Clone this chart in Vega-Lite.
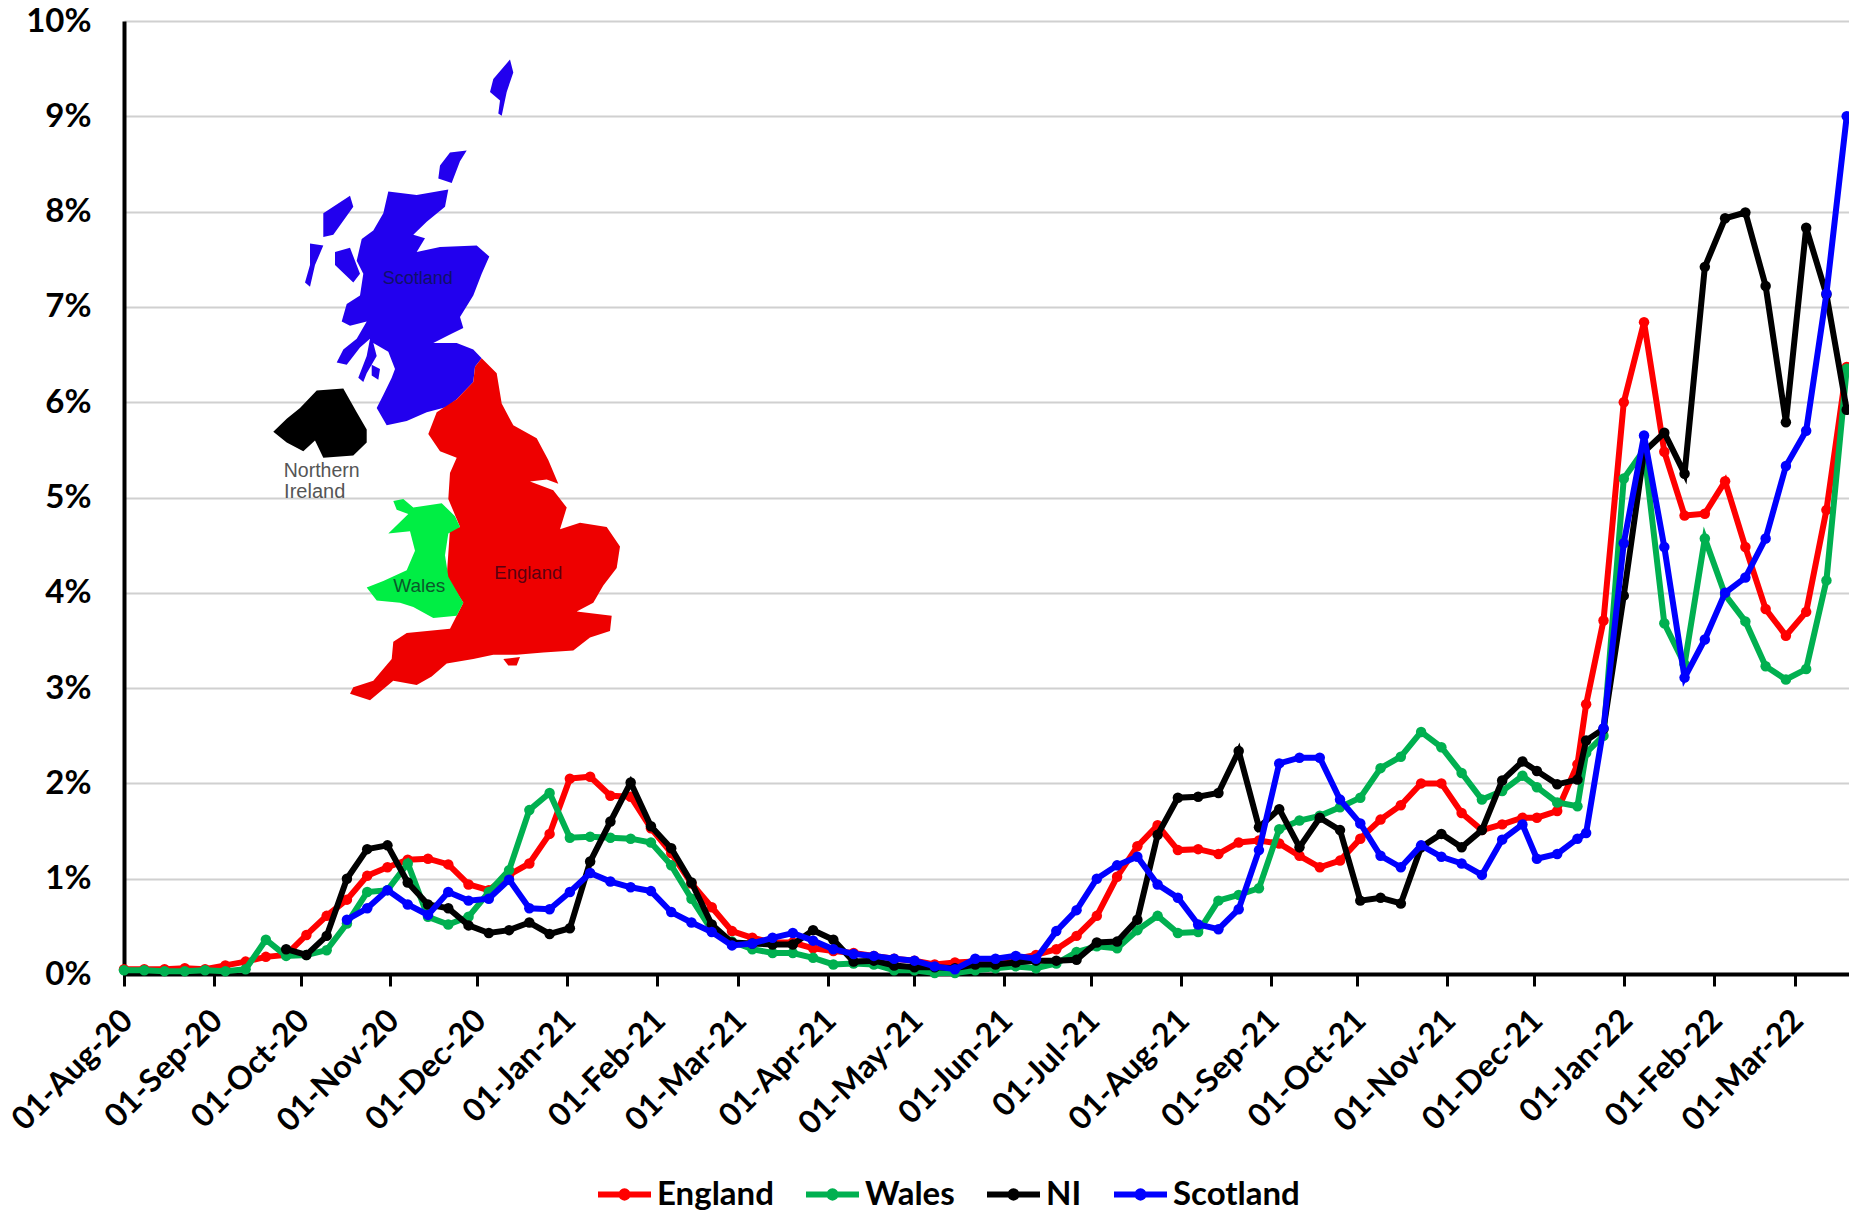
{"$schema":"https://vega.github.io/schema/vega-lite/v6.json","width":1725,"height":953,"autosize":{"type":"none"},"padding":{"left":124,"top":21,"right":0,"bottom":237},"background":"white","config":{"view":{"stroke":null}},
"datasets":{"rates":[
{"d":"2020-08-01","England":0.05,"Wales":0.04},{"d":"2020-08-08","England":0.05,"Wales":0.04},{"d":"2020-08-15","England":0.05,"Wales":0.03},{"d":"2020-08-22","England":0.06,"Wales":0.03},{"d":"2020-08-29","England":0.05,"Wales":0.04},{"d":"2020-09-05","England":0.09,"Wales":0.03},{"d":"2020-09-12","England":0.13,"Wales":0.05},{"d":"2020-09-19","England":0.18,"Wales":0.36},{"d":"2020-09-26","England":0.2,"Wales":0.19,"NI":0.26},{"d":"2020-10-03","England":0.41,"Wales":0.2,"NI":0.2},{"d":"2020-10-10","England":0.61,"Wales":0.25,"NI":0.4},{"d":"2020-10-17","England":0.78,"Wales":0.53,"NI":1.0,"Scotland":0.57},{"d":"2020-10-24","England":1.03,"Wales":0.86,"NI":1.31,"Scotland":0.69},{"d":"2020-10-31","England":1.12,"Wales":0.88,"NI":1.35,"Scotland":0.88},{"d":"2020-11-07","England":1.2,"Wales":1.16,"NI":0.96,"Scotland":0.73},{"d":"2020-11-14","England":1.21,"Wales":0.6,"NI":0.73,"Scotland":0.62},{"d":"2020-11-21","England":1.15,"Wales":0.52,"NI":0.69,"Scotland":0.86},{"d":"2020-11-28","England":0.94,"Wales":0.6,"NI":0.51,"Scotland":0.77},{"d":"2020-12-05","England":0.88,"Wales":0.86,"NI":0.43,"Scotland":0.79},{"d":"2020-12-12","England":1.04,"Wales":1.09,"NI":0.46,"Scotland":0.99},{"d":"2020-12-19","England":1.16,"Wales":1.72,"NI":0.54,"Scotland":0.69},{"d":"2020-12-26","England":1.47,"Wales":1.9,"NI":0.42,"Scotland":0.68},{"d":"2021-01-02","England":2.05,"Wales":1.43,"NI":0.48,"Scotland":0.86},{"d":"2021-01-09","England":2.07,"Wales":1.44,"NI":1.18,"Scotland":1.06},{"d":"2021-01-16","England":1.87,"Wales":1.43,"NI":1.6,"Scotland":0.97},{"d":"2021-01-23","England":1.86,"Wales":1.42,"NI":2.01,"Scotland":0.91},{"d":"2021-01-30","England":1.53,"Wales":1.38,"NI":1.55,"Scotland":0.87},{"d":"2021-02-06","England":1.27,"Wales":1.14,"NI":1.32,"Scotland":0.65},{"d":"2021-02-13","England":0.95,"Wales":0.79,"NI":0.96,"Scotland":0.54},{"d":"2021-02-20","England":0.7,"Wales":0.46,"NI":0.52,"Scotland":0.44},{"d":"2021-02-27","England":0.45,"Wales":0.34,"NI":0.33,"Scotland":0.3},{"d":"2021-03-06","England":0.38,"Wales":0.26,"NI":0.32,"Scotland":0.32},{"d":"2021-03-13","England":0.33,"Wales":0.22,"NI":0.31,"Scotland":0.38},{"d":"2021-03-20","England":0.33,"Wales":0.22,"NI":0.31,"Scotland":0.43},{"d":"2021-03-27","England":0.27,"Wales":0.17,"NI":0.46,"Scotland":0.35},{"d":"2021-04-03","England":0.24,"Wales":0.1,"NI":0.36,"Scotland":0.26},{"d":"2021-04-10","England":0.22,"Wales":0.11,"NI":0.13,"Scotland":0.21},{"d":"2021-04-17","England":0.19,"Wales":0.1,"NI":0.14,"Scotland":0.19},{"d":"2021-04-24","England":0.16,"Wales":0.04,"NI":0.09,"Scotland":0.16},{"d":"2021-05-01","England":0.14,"Wales":0.04,"NI":0.07,"Scotland":0.14},{"d":"2021-05-08","England":0.1,"Wales":0.01,"NI":0.07,"Scotland":0.08},{"d":"2021-05-15","England":0.12,"Wales":0.01,"NI":0.06,"Scotland":0.05},{"d":"2021-05-22","England":0.13,"Wales":0.04,"NI":0.1,"Scotland":0.16},{"d":"2021-05-29","England":0.14,"Wales":0.06,"NI":0.1,"Scotland":0.16},{"d":"2021-06-05","England":0.16,"Wales":0.08,"NI":0.12,"Scotland":0.19},{"d":"2021-06-12","England":0.2,"Wales":0.06,"NI":0.14,"Scotland":0.16},{"d":"2021-06-19","England":0.26,"Wales":0.11,"NI":0.14,"Scotland":0.45},{"d":"2021-06-26","England":0.4,"Wales":0.23,"NI":0.15,"Scotland":0.67},{"d":"2021-07-03","England":0.61,"Wales":0.29,"NI":0.33,"Scotland":1.0},{"d":"2021-07-10","England":1.02,"Wales":0.27,"NI":0.34,"Scotland":1.14},{"d":"2021-07-17","England":1.34,"Wales":0.46,"NI":0.57,"Scotland":1.23},{"d":"2021-07-24","England":1.56,"Wales":0.61,"NI":1.46,"Scotland":0.94},{"d":"2021-07-31","England":1.3,"Wales":0.43,"NI":1.85,"Scotland":0.8},{"d":"2021-08-07","England":1.31,"Wales":0.44,"NI":1.86,"Scotland":0.52},{"d":"2021-08-14","England":1.26,"Wales":0.77,"NI":1.9,"Scotland":0.47},{"d":"2021-08-21","England":1.38,"Wales":0.83,"NI":2.34,"Scotland":0.68},{"d":"2021-08-28","England":1.4,"Wales":0.9,"NI":1.54,"Scotland":1.3},{"d":"2021-09-04","England":1.37,"Wales":1.52,"NI":1.73,"Scotland":2.21},{"d":"2021-09-11","England":1.24,"Wales":1.61,"NI":1.33,"Scotland":2.27},{"d":"2021-09-18","England":1.12,"Wales":1.66,"NI":1.64,"Scotland":2.27},{"d":"2021-09-25","England":1.19,"Wales":1.75,"NI":1.51,"Scotland":1.83},{"d":"2021-10-02","England":1.42,"Wales":1.85,"NI":0.77,"Scotland":1.58},{"d":"2021-10-09","England":1.62,"Wales":2.16,"NI":0.8,"Scotland":1.24},{"d":"2021-10-16","England":1.77,"Wales":2.28,"NI":0.74,"Scotland":1.12},{"d":"2021-10-23","England":2.0,"Wales":2.54,"NI":1.33,"Scotland":1.35},{"d":"2021-10-30","England":2.0,"Wales":2.38,"NI":1.47,"Scotland":1.23},{"d":"2021-11-06","England":1.69,"Wales":2.11,"NI":1.33,"Scotland":1.16},{"d":"2021-11-13","England":1.51,"Wales":1.83,"NI":1.51,"Scotland":1.04},{"d":"2021-11-20","England":1.57,"Wales":1.92,"NI":2.03,"Scotland":1.41},{"d":"2021-11-27","England":1.64,"Wales":2.08,"NI":2.23,"Scotland":1.57},{"d":"2021-12-02","England":1.64,"Wales":1.96,"NI":2.13,"Scotland":1.21},{"d":"2021-12-09","England":1.71,"Wales":1.8,"NI":1.99,"Scotland":1.26},{"d":"2021-12-16","England":2.2,"Wales":1.76,"NI":2.04,"Scotland":1.42},{"d":"2021-12-19","England":2.83,"Wales":2.32,"NI":2.45,"Scotland":1.48},{"d":"2021-12-25","England":3.71,"Wales":2.5,"NI":2.57,"Scotland":2.58},{"d":"2022-01-01","England":6.0,"Wales":5.2,"NI":3.97,"Scotland":4.52},{"d":"2022-01-08","England":6.84,"Wales":5.5,"NI":5.48,"Scotland":5.65},{"d":"2022-01-15","England":5.48,"Wales":3.68,"NI":5.68,"Scotland":4.48},{"d":"2022-01-22","England":4.81,"Wales":3.25,"NI":5.25,"Scotland":3.11},{"d":"2022-01-29","England":4.83,"Wales":4.57,"NI":7.42,"Scotland":3.51},{"d":"2022-02-05","England":5.17,"Wales":3.98,"NI":7.93,"Scotland":4.0},{"d":"2022-02-12","England":4.48,"Wales":3.7,"NI":7.99,"Scotland":4.16},{"d":"2022-02-19","England":3.83,"Wales":3.23,"NI":7.22,"Scotland":4.57},{"d":"2022-02-26","England":3.55,"Wales":3.09,"NI":5.79,"Scotland":5.33},{"d":"2022-03-05","England":3.8,"Wales":3.2,"NI":7.83,"Scotland":5.7},{"d":"2022-03-12","England":4.87,"Wales":4.13,"NI":7.13,"Scotland":7.14},{"d":"2022-03-19","England":6.37,"Wales":6.35,"NI":5.92,"Scotland":9.0}
]},
"data":{"name":"rates"},
"resolve":{"scale":{"fill":"independent"}},
"encoding":{
"x":{"field":"d","type":"temporal","scale":{"domain":["2020-08-01T00:00:00","2022-03-19T19:00:00"]},"axis":{"values":["2020-08-01T00:00:00","2020-09-01T00:00:00","2020-10-01T00:00:00","2020-11-01T00:00:00","2020-12-01T00:00:00","2021-01-01T00:00:00","2021-02-01T00:00:00","2021-03-01T00:00:00","2021-04-01T00:00:00","2021-05-01T00:00:00","2021-06-01T00:00:00","2021-07-01T00:00:00","2021-08-01T00:00:00","2021-09-01T00:00:00","2021-10-01T00:00:00","2021-11-01T00:00:00","2021-12-01T00:00:00","2022-01-01T00:00:00","2022-02-01T00:00:00","2022-03-01T00:00:00"],"format":"%d-%b-%y","labelAngle":-45,"labelAlign":"right","labelBaseline":"middle","labelPadding":29,"labelOffset":3,"labelFont":"Lato","labelFontWeight":"bold","labelFontSize":32,"labelColor":"#000000","labelOverlap":false,"labelBound":false,"labelFlush":false,"domainColor":"#000000","domainWidth":4,"tickColor":"#000000","tickWidth":3,"tickSize":12,"grid":false,"title":null}},
"y":{"field":"rate","type":"quantitative","scale":{"domain":[0,10],"nice":false},"axis":{"values":[0,1,2,3,4,5,6,7,8,9,10],"labelExpr":"datum.value + '%'","labelFont":"Lato","labelFontWeight":"bold","labelFontSize":33,"labelColor":"#000000","labelPadding":33,"domainColor":"#000000","domainWidth":4,"ticks":false,"gridColor":"#d0d0d0","gridWidth":2,"title":null}},
"color":{"field":"nation","type":"nominal","scale":{"domain":["England","Wales","NI","Scotland"],"range":["#ff0000","#00b050","#000000","#0000ff"]},"legend":{"title":null,"orient":"none","legendX":471,"legendY":1144,"columns":4,"columnPadding":20,"gridAlign":"none","symbolType":"M-1,0H1M-0.12,0A0.12,0.12 0 1 1 0.12,0A0.12,0.12 0 1 1 -0.12,0","symbolSize":2809,"symbolStrokeWidth":6,"labelFont":"Lato","labelFontWeight":"bold","labelFontSize":33,"labelColor":"#000000","labelOffset":3}}
},
"layer":[
{"data":{"values":[
{"type":"Feature","properties":{"name":"Scotland"},"geometry":{"type":"MultiPolygon","coordinates":[[[[128.3,151.5],[156.7,155],[188.3,149.4],[185,166.7],[166.7,181.8],[153.3,194.8],[165,198.3],[156.7,212.1],[180,206.9],[216.7,205.6],[229.3,216.5],[221.7,233.8],[213.3,255.4],[200,277],[203.3,287.9],[190,294.4],[173.3,303],[196.7,303],[213.3,309.5],[221.7,318.2],[215,326.8],[213.3,342],[196.7,359.3],[186.7,367.1],[166.7,372.3],[146.7,381],[126.7,385.3],[116.7,368],[123.3,355],[131.7,337.7],[135,329],[128.3,311.7],[113.3,303],[116.7,316],[106.7,333.3],[103.3,342],[98.3,337.7],[106.7,316],[110,298.7],[100,307.4],[86.7,324.7],[76.7,322.5],[83.3,309.5],[96.7,298.7],[106.7,281.4],[90,285.7],[81.7,281.4],[86.7,264],[100,255.4],[103.3,233.8],[96.7,220.8],[101.7,199.1],[113.3,190.5],[123.3,173.2],[128.3,151.5]]],[[[50,203.5],[63.3,205.6],[55,225.1],[50,246.8],[45,242.4],[50,225.1],[50,203.5]]],[[[75,212.1],[90,207.8],[100,233.8],[93.3,242.4],[75,225.1],[75,212.1]]],[[[63.3,173.2],[90,155.8],[93.3,166.7],[73.3,194.8],[63.3,197],[63.3,173.2]]],[[[180,125.5],[190,112.6],[206.7,110.4],[200,121.2],[191.7,142.9],[178.3,138.5],[180,125.5]]],[[[230,51.9],[233.3,39],[250,19.5],[253.3,32.5],[246.7,51.9],[241.7,75.8],[238.3,73.6],[240,60.6],[230,51.9]]],[[[111.7,324.7],[120,329],[118.3,339.8],[111.7,335.5],[111.7,324.7]]]]}},
{"type":"Feature","properties":{"name":"England"},"geometry":{"type":"MultiPolygon","coordinates":[[[[221.7,318.2],[236.7,333.3],[241.7,363.6],[253.3,385.3],[276.7,398.3],[288.3,419.9],[298.3,443.7],[286.7,439.4],[270,441.6],[293.3,450.2],[306.7,467.5],[300,489.2],[320,482.7],[346.7,487],[360,506.5],[356.7,528.1],[343.3,545.5],[333.3,562.8],[316.7,571.4],[351.7,575.8],[350,590.9],[330,597.4],[313.3,610.4],[283.3,612.6],[256.7,614.7],[233.3,614.7],[213.3,619],[186.7,623.4],[171.7,636.4],[156.7,645],[133.3,640.7],[110,660.2],[90,653.7],[93.3,647.2],[113.3,640.7],[131.7,619],[133.3,601.7],[146.7,593.1],[190,588.7],[203.3,562.8],[186.7,536.8],[190,489.2],[200,487],[188.3,458.9],[190,432.9],[196.7,417.7],[180,411.3],[168.3,393.9],[176.7,372.3],[196.7,359.3],[213.3,342],[215,326.8],[221.7,318.2]]],[[[243.3,619],[260,616.9],[256.7,625.5],[248.3,625.5],[243.3,619]]]]}},
{"type":"Feature","properties":{"name":"Wales"},"geometry":{"type":"Polygon","coordinates":[[[133.3,461],[143.3,458.9],[153.3,467.5],[181.7,463.2],[195,476.2],[200,487],[188.3,493.5],[185,515.2],[188.3,536.8],[203.3,562.8],[196.7,575.8],[173.3,577.9],[153.3,567.1],[140,562.8],[116.7,560.6],[106.7,547.6],[123.3,541.1],[146.7,530.3],[155,510.8],[150,491.3],[128.3,493.5],[148.3,474],[136.7,469.7],[133.3,461]]]}},
{"type":"Feature","properties":{"name":"Northern Ireland"},"geometry":{"type":"Polygon","coordinates":[[[13.3,391.8],[26.7,378.8],[40,368],[56.7,350.6],[83.3,348.5],[96.7,372.3],[106.7,389.6],[106.7,402.6],[93.3,415.6],[63.3,417.7],[55,400.4],[43.3,411.3],[26.7,402.6],[13.3,391.8]]]}}
]},"mark":{"type":"geoshape","stroke":null},"projection":{"type":"identity","reflectY":false,"scale":1,"translate":[136,19]},"encoding":{"x":null,"y":null,"color":null,"fill":{"field":"properties.name","type":"nominal","scale":{"domain":["Scotland","England","Wales","Northern Ireland"],"range":["#2200ee","#ee0000","#00ee44","#000000"]},"legend":null}}},
{"data":{"values":[{"t":"Scotland","u":157.7,"v":239.4},{"t":"England","u":268.3,"v":532.5},{"t":"Wales","u":159.3,"v":546.3},{"t":"Northern","u":61.7,"v":430.7},{"t":"Ireland","u":54.7,"v":452.4}]},"mark":{"type":"text","font":"Liberation Sans","align":"center","baseline":"middle"},"projection":{"type":"identity","reflectY":false,"scale":1,"translate":[136,19]},"encoding":{"x":null,"y":null,"color":null,"longitude":{"field":"u","type":"quantitative"},"latitude":{"field":"v","type":"quantitative"},"text":{"field":"t"},"fill":{"field":"t","type":"nominal","scale":{"domain":["Scotland","England","Wales","Northern","Ireland"],"range":["#10106a","#5a0010","#0a5a2a","#555555","#555555"]},"legend":null},"size":{"field":"t","type":"nominal","scale":{"domain":["Scotland","England","Wales","Northern","Ireland"],"range":[18,20,18,17.5,17.5]},"legend":null}}},
{"transform":[{"fold":["England","Wales","NI","Scotland"],"as":["nation","rate"]},{"filter":"isValid(datum.rate) && datum.nation==='England'"}],"mark":{"type":"line","strokeWidth":6,"point":{"size":110,"filled":true}}},
{"transform":[{"fold":["England","Wales","NI","Scotland"],"as":["nation","rate"]},{"filter":"isValid(datum.rate) && datum.nation==='Wales'"}],"mark":{"type":"line","strokeWidth":6,"point":{"size":110,"filled":true}}},
{"transform":[{"fold":["England","Wales","NI","Scotland"],"as":["nation","rate"]},{"filter":"isValid(datum.rate) && datum.nation==='NI'"}],"mark":{"type":"line","strokeWidth":6,"point":{"size":110,"filled":true}}},
{"transform":[{"fold":["England","Wales","NI","Scotland"],"as":["nation","rate"]},{"filter":"isValid(datum.rate) && datum.nation==='Scotland'"}],"mark":{"type":"line","strokeWidth":6,"point":{"size":110,"filled":true}}}
]}
